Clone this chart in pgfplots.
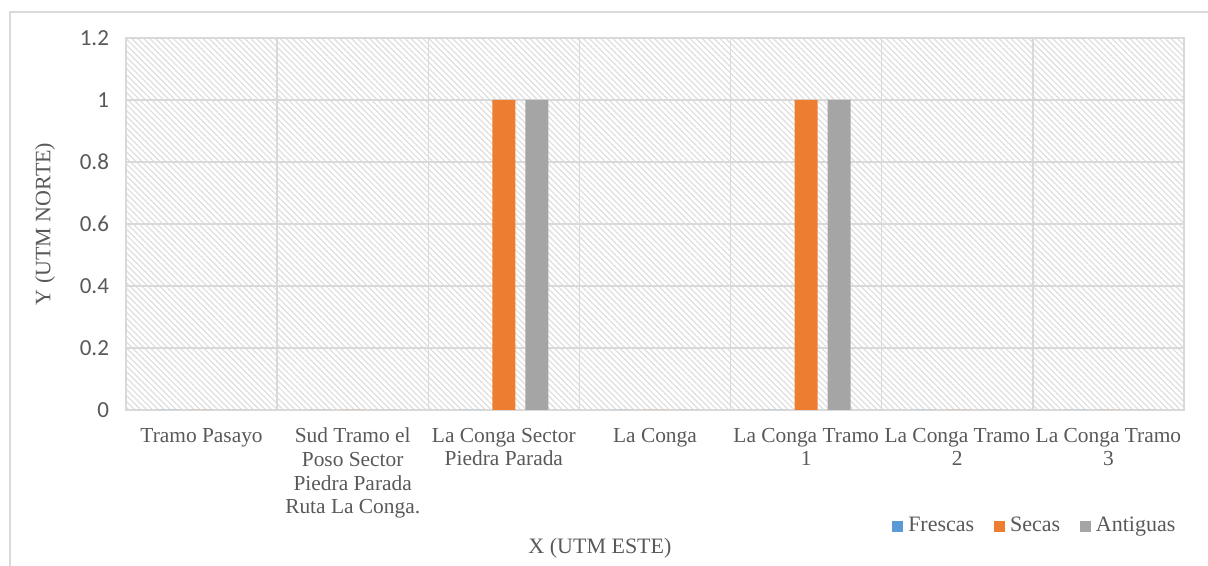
\documentclass[border=0pt]{standalone}
\usepackage{pgfplots}
\pgfplotsset{compat=1.18}
\usepackage{fontspec}
\setmainfont{Liberation Serif}
\newfontfamily\calibri{Carlito}
\usetikzlibrary{patterns.meta}
\definecolor{txt}{HTML}{595959}
\definecolor{gridc}{HTML}{D9D9D9}
\definecolor{hatch}{HTML}{DEDEDE}
\definecolor{cFres}{HTML}{5B9BD5}
\definecolor{cSec}{HTML}{ED7D31}
\definecolor{cAnt}{HTML}{A5A5A5}
\begin{document}
\begin{tikzpicture}
\path[use as bounding box] (0,0) rectangle (604pt,283pt);
\draw[gridc, line width=0.75pt] (5pt,0) -- (5pt,277pt) -- (604pt,277pt);
\begin{axis}[
  at={(63pt,78pt)}, anchor=south west,
  scale only axis, width=529pt, height=186pt,
  xmin=-0.5, xmax=6.5, ymin=0, ymax=1.2,
  ytick={0,0.2,...,1.2},
  xtick={0,...,6},
  xticklabels={{Tramo Pasayo},{Sud Tramo el\\Poso Sector\\Piedra Parada\\Ruta La Conga.},{La Conga Sector\\Piedra Parada},{La Conga},{La Conga Tramo\\1},{La Conga Tramo\\2},{La Conga Tramo\\3}},
  minor xtick={0.5,1.5,...,5.5},
  major tick length=0, minor tick length=0,
  ymajorgrids, xminorgrids,
  grid style={gridc, line width=0.75pt},
  minor grid style={gridc, line width=0.75pt},
  axis line style={gridc, line width=0.75pt},
  axis background/.style={pattern={Lines[angle=-45,distance=2.1pt,line width=0.6pt]}, pattern color=hatch},
  xticklabel style={font=\fontsize{10.7}{11.8}\selectfont, text=txt, align=center, yshift=-5.5pt},
  yticklabel style={font=\calibri\fontsize{11.5}{13}\selectfont, text=txt, xshift=-5pt},
  /pgf/number format/assume math mode=true,
  every axis y label/.style={at={(axis description cs:0,0.5)}, xshift=-40.5pt, rotate=90, anchor=center, font=\fontsize{11}{13}\selectfont, text=txt},
  every axis x label/.style={at={(axis description cs:0.448,0)}, yshift=-69pt, anchor=center, font=\fontsize{11}{13}\selectfont, text=txt},
  ylabel={Y (UTM NORTE)},
  xlabel={X (UTM ESTE)},
  ybar, bar width=11.5pt,
  legend style={at={(axis description cs:0.859,0)}, yshift=-58pt, anchor=center, draw=none, fill=none,
    legend columns=-1, font=\fontsize{11}{13}\selectfont, text=txt,
    /tikz/every even column/.append style={column sep=8.5pt},
    nodes={inner sep=1.2pt}},
  legend image code/.code={\fill[#1] (0pt,-2.75pt) rectangle (5.5pt,2.75pt);},
]
\addplot[fill=cFres, draw=none, bar shift=-16.5pt] coordinates {(0,0) (1,0) (2,0) (3,0) (4,0) (5,0) (6,0)};
\addplot[fill=cSec, draw=none, bar shift=0pt] coordinates {(0,0) (1,0) (2,1) (3,0) (4,1) (5,0) (6,0)};
\addplot[fill=cAnt, draw=none, bar shift=16.5pt] coordinates {(0,0) (1,0) (2,1) (3,0) (4,1) (5,0) (6,0)};
\legend{\hspace{1.5pt}Frescas,\hspace{1.5pt}Secas,\hspace{1.5pt}Antiguas}
\end{axis}
\end{tikzpicture}
\end{document}
